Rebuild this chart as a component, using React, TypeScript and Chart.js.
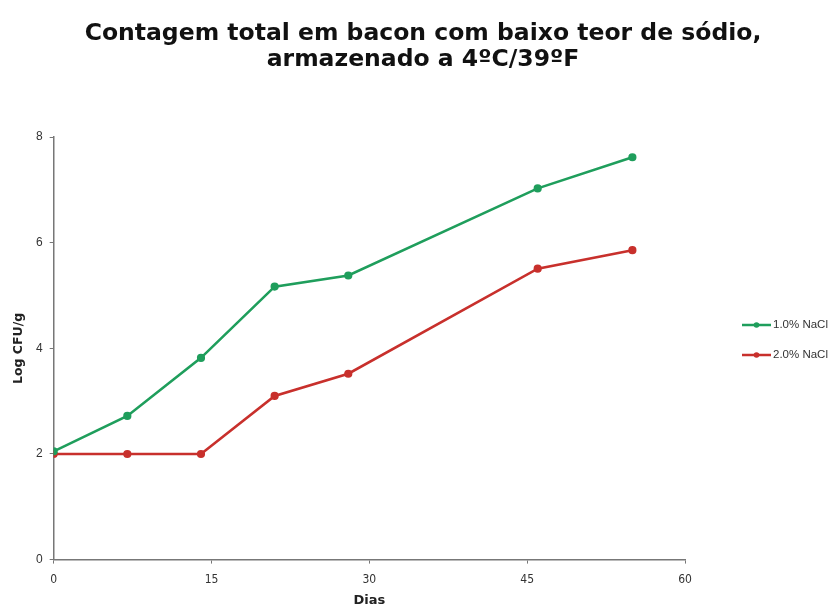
import React, { useEffect, useRef } from "react";
import { Chart, registerables } from "chart.js";

Chart.register(...registerables);

const days = [0, 7, 14, 21, 28, 46, 55];
const nacl10 = [2.05, 2.72, 3.82, 5.17, 5.38, 7.03, 7.62];
const nacl20 = [2.0, 2.0, 2.0, 3.1, 3.52, 5.51, 5.86];
const seriesLabels = ["1.0% NaCl", "2.0% NaCl"];
const seriesColors = ["#1f9e5c", "#c8302c"];
const titleLines = ["Contagem total em bacon com baixo teor de sódio,", "armazenado a 4ºC/39ºF"];
const xTitle = "Dias";
const yTitle = "Log CFU/g";

const legendPlugin = {
  id: "sideLegend",
  afterDraw(chart: any) {
    const ctx = chart.ctx;
    const x0 = 742;
    const yStart = 325;
    const gap = 30;
    ctx.save();
    chart.data.datasets.forEach((ds: any, i: number) => {
      const y = yStart + i * gap;
      ctx.strokeStyle = ds.borderColor;
      ctx.lineWidth = 2.5;
      ctx.beginPath();
      ctx.moveTo(x0, y);
      ctx.lineTo(x0 + 29, y);
      ctx.stroke();
      ctx.fillStyle = ds.borderColor;
      ctx.beginPath();
      ctx.arc(x0 + 14.5, y, 2.8, 0, Math.PI * 2);
      ctx.fill();
      ctx.fillStyle = "#333";
      ctx.font = "11.5px 'Liberation Sans', Arial, sans-serif";
      ctx.textBaseline = "middle";
      ctx.textAlign = "left";
      ctx.fillText(ds.label, x0 + 31, y);
    });
    ctx.restore();
  },
};

export default function App() {
  const ref = useRef<HTMLCanvasElement>(null);
  useEffect(() => {
    document.body.style.margin = "0";
    const makeData = (vals: number[]) => days.map((d, i) => ({ x: d, y: vals[i] }));
    const chart = new Chart(ref.current!, {
      type: "line",
      data: {
        datasets: [nacl10, nacl20].map((vals, i) => ({
          label: seriesLabels[i],
          data: makeData(vals),
          borderColor: seriesColors[i],
          backgroundColor: seriesColors[i],
          borderWidth: 2.6,
          pointRadius: 2.8,
          pointHoverRadius: 2.8,
          tension: 0,
          yAxisID: "y",
        })),
      },
      options: {
        animation: false,
        responsive: false,
        layout: { padding: { left: 11, top: 21, right: 0, bottom: 0 } },
        plugins: {
          legend: { display: false },
          tooltip: { enabled: false },
          title: {
            display: true,
            text: titleLines,
            color: "#111",
            font: { family: "'DejaVu Sans', sans-serif", size: 23.5, weight: "bold", lineHeight: 1.11 },
            padding: { top: 0, bottom: 64 },
          },
        },
        scales: {
          x: {
            type: "linear",
            min: 0,
            max: 60,
            ticks: {
              stepSize: 15,
              color: "#333",
              font: { family: "'Liberation Sans Narrow', 'DejaVu Sans Condensed', sans-serif", size: 12 },
              padding: 9,
            },
            grid: { drawOnChartArea: false, drawTicks: true, tickLength: 4, color: "#777" },
            border: { color: "#777", width: 1.5 },
            title: {
              display: true,
              text: xTitle,
              color: "#222",
              font: { family: "'DejaVu Sans', sans-serif", size: 13, weight: "bold", lineHeight: 1 },
              padding: { top: -2, bottom: 0 },
            },
          },
          y: {
            min: 0,
            max: 8,
            ticks: {
              stepSize: 2,
              color: "#333",
              font: { family: "'Liberation Sans', Arial, sans-serif", size: 12 },
              padding: 7,
            },
            grid: { drawOnChartArea: false, drawTicks: true, tickLength: 4, color: "#777" },
            border: { color: "#777", width: 1.5 },
            title: {
              display: true,
              text: yTitle,
              color: "#222",
              font: { family: "'DejaVu Sans', sans-serif", size: 12.5, weight: "bold" },
              padding: { top: 0, bottom: 3 },
            },
          },
          y2: {
            position: "right",
            display: true,
            min: 0,
            max: 8,
            ticks: { display: false },
            grid: { display: false },
            border: { display: false },
            afterFit(scale: any) {
              scale.width = 150;
            },
          },
        },
      },
      plugins: [legendPlugin],
    } as any);
    return () => chart.destroy();
  }, []);
  return <canvas ref={ref} width={835} height={607} style={{ display: "block" }} />;
}
